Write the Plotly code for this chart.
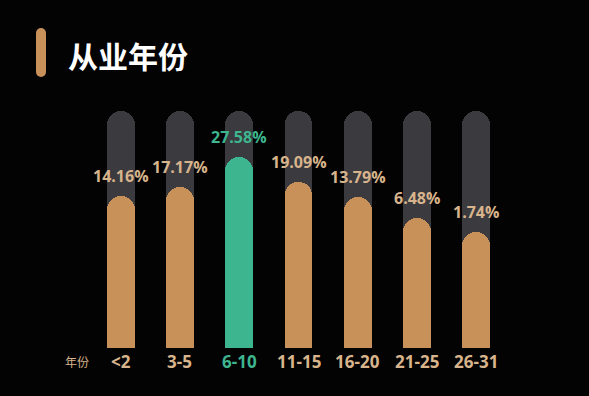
import plotly.graph_objects as go

categories = ["<2", "3-5", "6-10", "11-15", "16-20", "21-25", "26-31"]
pct_labels = ["14.16%", "17.17%", "27.58%", "19.09%", "13.79%", "6.48%", "1.74%"]
# visual bar level (track full = 100)
bar_level = [64.1, 68.1, 80.6, 70.0, 63.7, 54.9, 49.0]
track_level = [100] * 7
highlight = "6-10"

TAN = "#C8915A"
GREEN = "#3DB58E"
TRACK = "#3B3A3E"
LABEL_TAN = "#D8B48C"
BG = "#030303"

x = list(range(len(categories)))
bar_colors = [GREEN if c == highlight else TAN for c in categories]
lbl_colors = [GREEN if c == highlight else LABEL_TAN for c in categories]

fig = go.Figure()
fig.add_trace(go.Bar(x=x, y=track_level, width=0.472,
                     marker=dict(color=TRACK, cornerradius=14, line=dict(width=0)),
                     hoverinfo="skip", showlegend=False, xaxis="x", yaxis="y"))
fig.add_trace(go.Bar(x=x, y=bar_level, width=0.472,
                     marker=dict(color=bar_colors, cornerradius=14, line=dict(width=0)),
                     showlegend=False, xaxis="x2", yaxis="y2"))

FONT = "Open Sans, Noto Sans, sans-serif"
annotations = []
for i, c in enumerate(categories):
    annotations.append(dict(x=i, y=bar_level[i], xref="x", yref="y", text="<b>" + pct_labels[i] + "</b>",
                            showarrow=False, yanchor="middle", yshift=20,
                            font=dict(family=FONT, size=16, color=lbl_colors[i])))
    annotations.append(dict(x=i, y=0, xref="x", yref="y", text="<b>" + c + "</b>", showarrow=False,
                            yanchor="middle", yshift=-13,
                            font=dict(family=FONT, size=17, color=lbl_colors[i])))
annotations.append(dict(xref="x domain", yref="y", x=(77 - 91) / 415, y=0, text="年份", showarrow=False,
                        xanchor="center", yanchor="middle", yshift=-13,
                        font=dict(family="Noto Sans CJK SC", size=12, color=LABEL_TAN)))
annotations.append(dict(xref="paper", yref="paper", x=(66 - 91) / 415, y=1.0,
                        text="<b>从业年份</b>",
                        showarrow=False, xanchor="left", yanchor="middle", yshift=108 - 55,
                        font=dict(family="Noto Sans CJK SC", size=30, color="#FFFFFF")))

def px_x(p):
    return (p - 91) / 415

def px_y(p):
    return (348 - p) / 240

shapes = [
    dict(type="rect", xref="paper", yref="paper", x0=px_x(36), x1=px_x(46), y0=px_y(72), y1=px_y(33),
         fillcolor=TAN, line=dict(width=0), layer="above"),
    dict(type="circle", xref="paper", yref="paper", x0=px_x(36), x1=px_x(46), y0=px_y(38), y1=px_y(28),
         fillcolor=TAN, line=dict(width=0), layer="above"),
    dict(type="circle", xref="paper", yref="paper", x0=px_x(36), x1=px_x(46), y0=px_y(77), y1=px_y(67),
         fillcolor=TAN, line=dict(width=0), layer="above"),
]

axis_x = dict(range=[-0.5, 6.5], visible=False, fixedrange=True)
axis_y = dict(range=[0, 101.27], visible=False, fixedrange=True)
fig.update_layout(
    width=589, height=396,
    margin=dict(l=91, r=83, t=108, b=48),
    paper_bgcolor=BG, plot_bgcolor=BG,
    barmode="overlay", bargap=0,
    xaxis=axis_x, yaxis=axis_y,
    xaxis2=dict(axis_x, overlaying="x"), yaxis2=dict(axis_y, overlaying="y"),
    annotations=annotations,
    shapes=shapes,
)
fig.write_html("out.html", config={"displayModeBar": False})

with open("out.html", "r", encoding="utf-8") as f:
    html = f.read()
html = html.replace("<head>", "<head><style>html,body{margin:0;padding:0;background:%s;}</style>" % BG, 1)
with open("out.html", "w", encoding="utf-8") as f:
    f.write(html)
